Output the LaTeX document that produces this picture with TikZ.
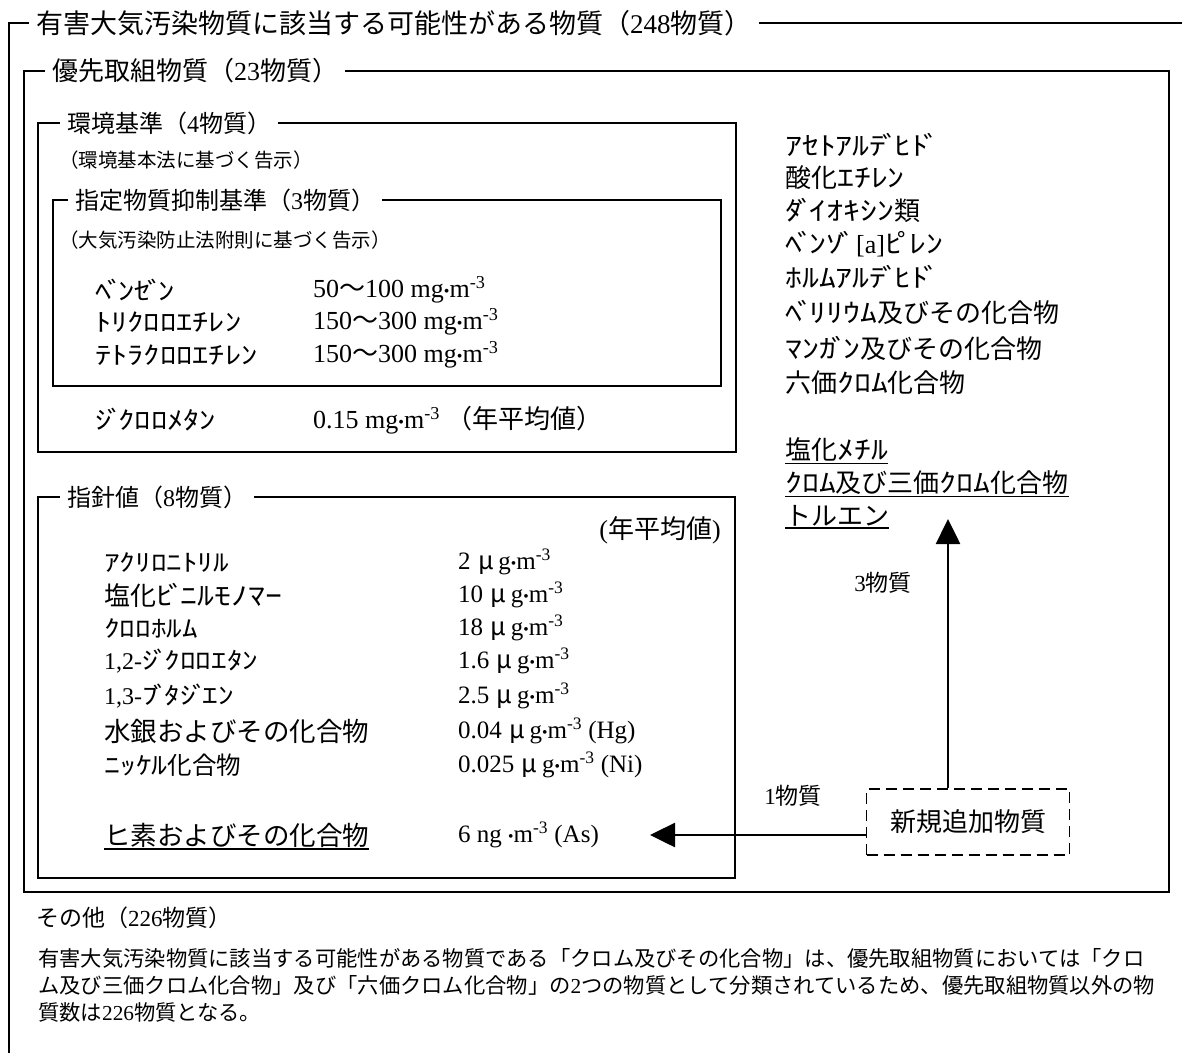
\documentclass[tikz,border=0pt]{standalone}
\usepackage{fontspec}
\usepackage{graphicx}
\setmainfont{Liberation Serif}
\newfontfamily\jp{Noto Sans CJK JP}
\newfontfamily\hk{Noto Sans CJK JP}[FakeStretch=1.3]
\newfontfamily\lat{Liberation Serif}
\newcommand\fs[1]{\fontsize{#1pt}{#1pt}\selectfont}
\newcommand\dk{\kern-.16em ﾞ\kern-.2em}
\newcommand\dke{\kern-.16em ﾞ}
\newcommand\hdk{\kern-.16em ﾟ\kern-.2em}
\newcommand\dotc{\raisebox{.05em}{\scalebox{.62}{\lat •}}}
\newcommand\mgm{mg\dotc m\textsuperscript{-3}}
\newcommand\ugm{\hspace{.3em}{\jp μ}\hspace{.18em}g\dotc m\textsuperscript{-3}}
\usetikzlibrary{arrows.meta}
\begin{document}
\begin{tikzpicture}[x=1pt,y=-1pt,
  frame/.style={draw, line width=1.8pt},
  ttl/.style={fill=white, inner xsep=7pt, inner ysep=1pt, anchor=west},
  lbl/.style={inner sep=0pt, anchor=west},
  rc/.style={lbl, font={\jp\fs{26}}},
  nm/.style={lbl, font={\jp\fs{24}}},
  vl/.style={lbl, font={\lat\fs{25}}},
  ul/.style={line width=1.6pt},
  arr/.style={line width=2.6pt, -{Triangle[length=25pt,width=24pt]}},
]
\useasboundingbox (0,0) rectangle (1182,1052);
% outer frame
\draw[frame] (1186,23) -- (9,23) -- (9,1056);
\node[ttl, font={\jp\fs{27}}] (tOuter) at (29,23) {有害大気汚染物質に該当する可能性がある物質（{\lat 248}物質）};
% priority frame
\draw[frame] (24,71) rectangle (1169,892);
\node[ttl, font={\jp\fs{26}}] (tPrio) at (45,71) {優先取組物質（{\lat 23}物質）};
% environmental standard frame
\draw[frame] (38,123) rectangle (736,452);
\node[ttl, font={\jp\fs{24}}] (tEnv) at (60,123) {環境基準（{\lat 4}物質）};
\node[lbl, font={\jp\fs{19.5}}] (nEnv) at (59,160) {（環境基本法に基づく告示）};
% designated substance frame
\draw[frame] (53,200) rectangle (721,386);
\node[ttl, font={\jp\fs{24}}] (tDes) at (68,200) {指定物質抑制基準（{\lat 3}物質）};
\node[lbl, font={\jp\fs{19.5}}] (nDes) at (59,240) {（大気汚染防止法附則に基づく告示）};
\node[nm, font={\hk\fs{25}}] (d1) at (95,290) {ﾍ\dk ﾝｾ\dk ﾝ};
\node[nm, font={\hk\fs{25}}] (d2) at (95,322) {ﾄﾘｸﾛﾛｴﾁﾚﾝ};
\node[nm, font={\hk\fs{25}}] (d3) at (95,355) {ﾃﾄﾗｸﾛﾛｴﾁﾚﾝ};
\node[vl, font={\lat\fs{26}}] (v1) at (313,290) {50{\jp 〜}100 \mgm};
\node[vl, font={\lat\fs{26}}] (v2) at (313,322) {150{\jp 〜}300 \mgm};
\node[vl, font={\lat\fs{26}}] (v3) at (313,355) {150{\jp 〜}300 \mgm};
\node[nm, font={\hk\fs{25}}] (d4) at (95,420) {ｼ\dk ｸﾛﾛﾒﾀﾝ};
\node[vl, font={\lat\fs{26}}] (v4) at (313,420) {0.15 \mgm\ {\jp （年平均値）}};
% guideline frame
\draw[frame] (38,497) rectangle (735,878);
\node[ttl, font={\jp\fs{24}}] (tGui) at (60,497) {指針値（{\lat 8}物質）};
\node[inner sep=0pt, anchor=east, font={\jp\fs{26}}] (gAnn) at (721,530) {{\lat (}年平均値{\lat )}};
\node[nm, font={\hk\fs{24}}] (g1) at (104,562) {ｱｸﾘﾛﾆﾄﾘﾙ};
\node[nm, font={\jp\fs{26}}] (g2) at (104,595) {塩化{\hk ﾋ\dk ﾆﾙﾓﾉﾏｰ}};
\node[nm, font={\hk\fs{24}}] (g3) at (104,628) {ｸﾛﾛﾎﾙﾑ};
\node[nm, font={\hk\fs{24}}] (g4) at (104,661) {{\lat 1,2-}ｼ\dk ｸﾛﾛｴﾀﾝ};
\node[nm, font={\hk\fs{24}}] (g5) at (104,696) {{\lat 1,3-}ﾌ\dk ﾀｼ\dk ｴﾝ};
\node[nm, font={\jp\fs{26.5}}] (g6) at (104,731) {水銀およびその化合物};
\node[nm, font={\jp\fs{24.5}}] (g7) at (104,765) {{\hk ﾆｯｹﾙ}化合物};
\node[nm, font={\jp\fs{26.5}}] (g8) at (104,835) {ヒ素およびその化合物};
\draw[ul] ([yshift=-1.5pt]g8.south west) -- ([yshift=-1.5pt]g8.south east);
\node[vl] (w1) at (458,562) {2\ugm};
\node[vl] (w2) at (458,595) {10\ugm};
\node[vl] (w3) at (458,628) {18\ugm};
\node[vl] (w4) at (458,661) {1.6\ugm};
\node[vl] (w5) at (458,696) {2.5\ugm};
\node[vl] (w6) at (458,731) {0.04\ugm\ (Hg)};
\node[vl] (w7) at (458,765) {0.025\ugm\ (Ni)};
\node[vl] (w8) at (458,835) {6 ng \dotc m\textsuperscript{-3} (As)};
% right column
\node[rc] (r1) at (785,145) {\hk ｱｾﾄｱﾙﾃ\dk ﾋﾄ\dke};
\node[rc] (r2) at (785,178) {酸化{\hk ｴﾁﾚﾝ}};
\node[rc] (r3) at (785,210) {{\hk ﾀ\dk ｲｵｷｼﾝ}類};
\node[rc] (r4) at (785,244) {{\hk ﾍ\dk ﾝｿ\dke}{\lat [a]}{\hk ﾋ\hdk ﾚﾝ}};
\node[rc] (r5) at (785,277) {\hk ﾎﾙﾑｱﾙﾃ\dk ﾋﾄ\dke};
\node[rc] (r6) at (785,312) {{\hk ﾍ\dk ﾘﾘｳﾑ}及びその化合物};
\node[rc] (r7) at (785,348) {{\hk ﾏﾝｶ\dk ﾝ}及びその化合物};
\node[rc] (r8) at (785,383) {六価{\hk ｸﾛﾑ}化合物};
\node[rc] (u1) at (785,450) {塩化{\hk ﾒﾁﾙ}};
\node[rc] (u2) at (785,483) {{\hk ｸﾛﾑ}及び三価{\hk ｸﾛﾑ}化合物};
\node[rc] (u3) at (785,516) {トルエン};
\foreach \n in {u1,u2,u3}
  \draw[ul] ([yshift=-1.5pt]\n.south west) -- ([yshift=-1.5pt]\n.south east);
% new substances
\node[draw, line width=1.8pt, dash pattern=on 11pt off 6pt, minimum width=203pt, minimum height=66pt, inner sep=0pt, font={\jp\fs{26}}] (new) at (968,822) {新規追加物質};
\coordinate (tipUp) at (948,519);
\coordinate (tipLeft) at (650,835);
\draw[arr] (new.north -| tipUp) -- (tipUp);
\draw[arr] (new.west |- tipLeft) -- (tipLeft);
\node[inner sep=0pt, font={\jp\fs{23}}] (l3) at (883,583) {{\lat 3}物質};
\node[inner sep=0pt, font={\jp\fs{23}}] (l1) at (793,796) {{\lat 1}物質};
% others
\node[lbl, font={\jp\fs{23}}] (tOther) at (36,918) {その他（{\lat 226}物質）};
\node[lbl, font={\jp\fs{21.3}}] (p1) at (38,958) {有害大気汚染物質に該当する可能性がある物質である「クロム及びその化合物」は、優先取組物質においては「クロ};
\node[lbl, font={\jp\fs{21.3}}] (p2) at (38,985) {ム及び三価クロム化合物」及び「六価クロム化合物」の{\lat 2}つの物質として分類されているため、優先取組物質以外の物};
\node[lbl, font={\jp\fs{21.3}}] (p3) at (38,1012) {質数は{\lat 226}物質となる。};
\end{tikzpicture}
\end{document}
